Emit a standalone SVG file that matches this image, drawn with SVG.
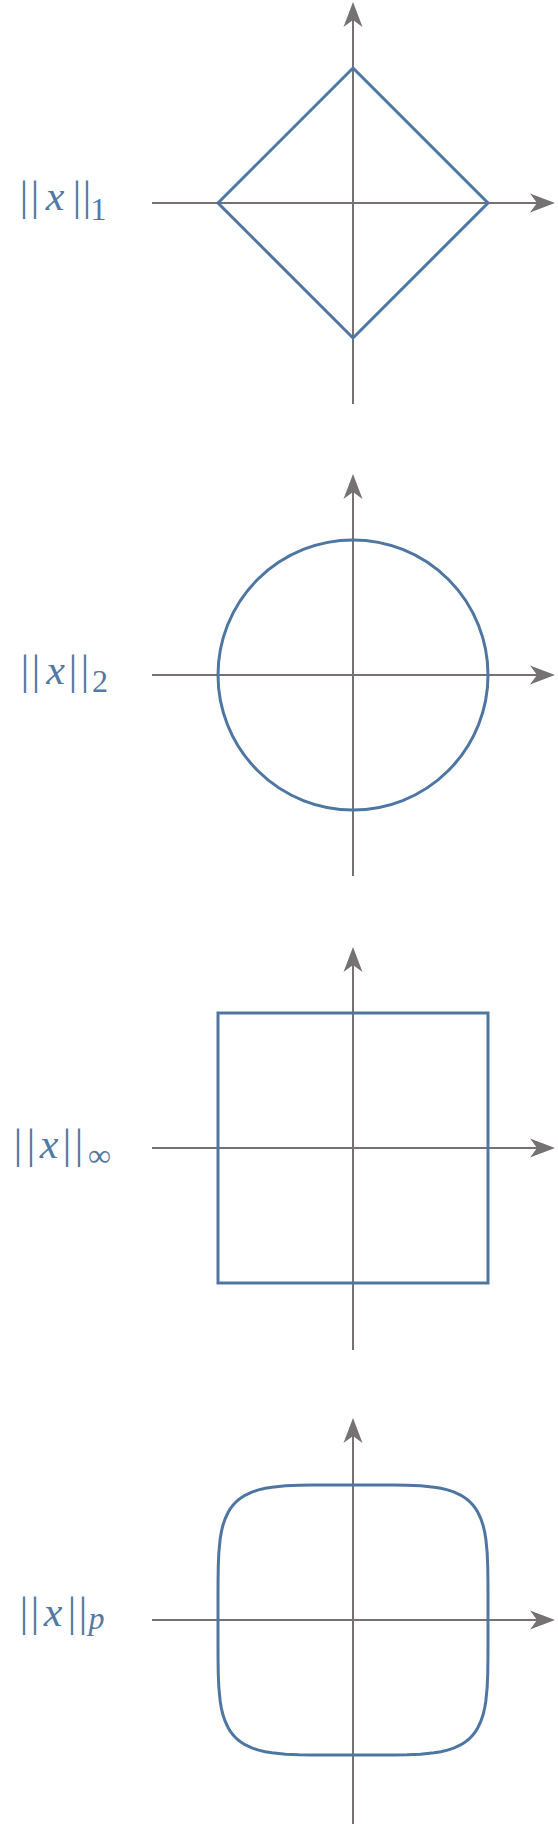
<svg xmlns="http://www.w3.org/2000/svg" width="558" height="1824" viewBox="0 0 558 1824">
<style>
.axis{stroke:#767173;stroke-width:2;fill:none}
.shape{stroke:#4e76a2;stroke-width:3;fill:none;stroke-linejoin:miter}
text{font-family:'Liberation Serif','Times New Roman',serif;fill:#5179a5;text-anchor:middle}
.bar{font-size:42px}
.var{font-size:42px;font-style:italic}
.sub{font-size:32px}
</style>
<defs>
<marker id="arr" viewBox="-11 -10 27 20" refX="0" refY="0" markerWidth="27" markerHeight="20" markerUnits="userSpaceOnUse" orient="auto">
<path d="M15,0 L-10,-9.5 L-3,0 L-10,9.5 Z" fill="#767173"/>
</marker>
</defs>
<rect width="558" height="1824" fill="#ffffff"/>
<g id="connectors">
<line class="axis" x1="152" y1="203" x2="540" y2="203" marker-end="url(#arr)"/>
<line class="axis" x1="353" y1="404" x2="353" y2="17" marker-end="url(#arr)"/>
<line class="axis" x1="152" y1="675" x2="540" y2="675" marker-end="url(#arr)"/>
<line class="axis" x1="353" y1="876" x2="353" y2="489" marker-end="url(#arr)"/>
<line class="axis" x1="152" y1="1148" x2="540" y2="1148" marker-end="url(#arr)"/>
<line class="axis" x1="353" y1="1350" x2="353" y2="962" marker-end="url(#arr)"/>
<line class="axis" x1="152" y1="1620" x2="540" y2="1620" marker-end="url(#arr)"/>
<line class="axis" x1="353" y1="1824" x2="353" y2="1433" marker-end="url(#arr)"/>
</g>
<g id="norm1">
<polygon class="shape" points="353,68 488,203 353,338 218,203"/>
<g>
<text class="bar" x="24" y="210" font-family="Liberation Serif">|</text>
<text class="bar" x="35" y="210" font-family="Liberation Serif">|</text>
<text class="var" x="55" y="210" font-family="Liberation Serif">x</text>
<text class="bar" x="77" y="210" font-family="Liberation Serif">|</text>
<text class="bar" x="87" y="210" font-family="Liberation Serif">|</text>
<text class="sub" x="98.5" y="220" font-family="Liberation Serif">1</text>
</g>
</g>
<g id="norm2">
<circle class="shape" cx="353" cy="675" r="135"/>
<g>
<text class="bar" x="25" y="684" font-family="Liberation Serif">|</text>
<text class="bar" x="36" y="684" font-family="Liberation Serif">|</text>
<text class="var" x="55.5" y="684" font-family="Liberation Serif">x</text>
<text class="bar" x="73" y="684" font-family="Liberation Serif">|</text>
<text class="bar" x="85" y="684" font-family="Liberation Serif">|</text>
<text class="sub" x="100" y="692" font-family="Liberation Serif">2</text>
</g>
</g>
<g id="norminf">
<rect class="shape" x="218" y="1013" width="270" height="270"/>
<g>
<text class="bar" x="18" y="1158" font-family="Liberation Serif">|</text>
<text class="bar" x="31" y="1158" font-family="Liberation Serif">|</text>
<text class="var" x="49" y="1158" font-family="Liberation Serif">x</text>
<text class="bar" x="67" y="1158" font-family="Liberation Serif">|</text>
<text class="bar" x="79" y="1158" font-family="Liberation Serif">|</text>
<text class="sub" x="99.5" y="1166" font-size="36" font-family="DejaVu Serif">∞</text>
</g>
</g>
<g id="normp">
<path class="shape" d="M488,1620 L487.99,1593 L487.93,1579.5 L487.72,1566 L487.15,1552.5 L485.83,1539 L484.71,1532.25 L483.12,1525.5 L480.88,1518.75 L477.7,1512 L475.6,1508.6 L473.05,1505.25 L470.53,1502.47 L467.75,1499.95 L464.4,1497.4 L461,1495.3 L454.25,1492.12 L447.5,1489.88 L440.75,1488.29 L434,1487.17 L420.5,1485.85 L407,1485.28 L393.5,1485.07 L380,1485.01 L353,1485 L326,1485.01 L312.5,1485.07 L299,1485.28 L285.5,1485.85 L272,1487.17 L265.25,1488.29 L258.5,1489.88 L251.75,1492.12 L245,1495.3 L241.6,1497.4 L238.25,1499.95 L235.47,1502.47 L232.95,1505.25 L230.4,1508.6 L228.3,1512 L225.12,1518.75 L222.88,1525.5 L221.29,1532.25 L220.17,1539 L218.85,1552.5 L218.28,1566 L218.07,1579.5 L218.01,1593 L218,1620 L218.01,1647 L218.07,1660.5 L218.28,1674 L218.85,1687.5 L220.17,1701 L221.29,1707.75 L222.88,1714.5 L225.12,1721.25 L228.3,1728 L230.4,1731.4 L232.95,1734.75 L235.47,1737.53 L238.25,1740.05 L241.6,1742.6 L245,1744.7 L251.75,1747.88 L258.5,1750.12 L265.25,1751.71 L272,1752.83 L285.5,1754.15 L299,1754.72 L312.5,1754.93 L326,1754.99 L353,1755 L380,1754.99 L393.5,1754.93 L407,1754.72 L420.5,1754.15 L434,1752.83 L440.75,1751.71 L447.5,1750.12 L454.25,1747.88 L461,1744.7 L464.4,1742.6 L467.75,1740.05 L470.53,1737.53 L473.05,1734.75 L475.6,1731.4 L477.7,1728 L480.88,1721.25 L483.12,1714.5 L484.71,1707.75 L485.83,1701 L487.15,1687.5 L487.72,1674 L487.93,1660.5 L487.99,1647 Z"/>
<g>
<text class="bar" x="24" y="1626" font-family="Liberation Serif">|</text>
<text class="bar" x="35" y="1626" font-family="Liberation Serif">|</text>
<text class="var" x="53" y="1626" font-family="Liberation Serif">x</text>
<text class="bar" x="72" y="1626" font-family="Liberation Serif">|</text>
<text class="bar" x="83" y="1626" font-family="Liberation Serif">|</text>
<text class="sub" x="96.5" y="1629" font-style="italic" font-family="Liberation Serif">p</text>
</g>
</g>
</svg>
